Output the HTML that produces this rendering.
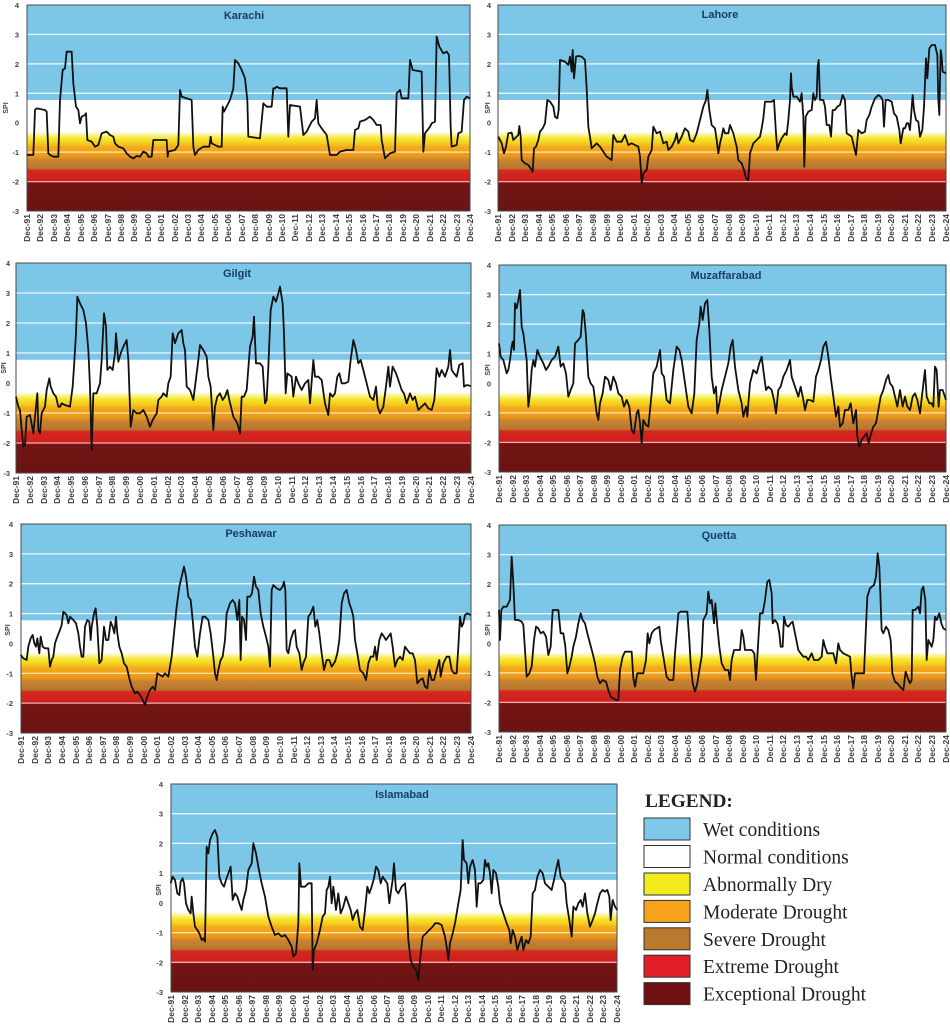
<!DOCTYPE html>
<html>
<head>
<meta charset="utf-8">
<style>
  html,body{margin:0;padding:0;background:#fff;}
  body{width:950px;height:1024px;position:relative;overflow:hidden;font-family:"Liberation Sans",sans-serif;}
  svg{position:absolute;left:0;top:0;}
  .gw{stroke:#ffffff;stroke-opacity:0.85;stroke-width:1.3;fill:none;}
  .gy{stroke:#fff6d0;stroke-opacity:0.85;stroke-width:1.2;fill:none;}
  .gr{stroke:#f6b8b8;stroke-opacity:0.95;stroke-width:1.3;fill:none;}
  .fr{fill:none;stroke:#4a4a4a;stroke-width:1;}
  .yl{font:bold 7.5px "Liberation Sans",sans-serif;fill:#444;text-anchor:end;}
  .spi{font:bold 7px "Liberation Sans",sans-serif;fill:#444;text-anchor:middle;}
  .tt{font:bold 11px "Liberation Sans",sans-serif;fill:#1a3d63;text-anchor:middle;}
  .ln{fill:none;stroke:#111;stroke-width:1.8;stroke-linejoin:round;vector-effect:non-scaling-stroke;}
  .xl{position:absolute;display:flex;justify-content:space-between;align-items:flex-start;}
  .xl span{writing-mode:vertical-rl;transform:rotate(180deg);font:bold 8.5px "Liberation Sans",sans-serif;line-height:10px;color:#3c3c3c;white-space:nowrap;}
  .lg{font-family:"Liberation Serif",serif;fill:#222;}
</style>
</head>
<body>
<svg width="950" height="1024" viewBox="0 0 950 1024" xmlns="http://www.w3.org/2000/svg">
<defs>
<linearGradient id="bg" x1="0" y1="0" x2="0" y2="1">
  <stop offset="0" stop-color="#7cc6e8"/>
  <stop offset="0.46" stop-color="#7cc6e8"/>
  <stop offset="0.4615" stop-color="#ffffff"/>
  <stop offset="0.614" stop-color="#ffffff"/>
  <stop offset="0.628" stop-color="#fbf4a8"/>
  <stop offset="0.65" stop-color="#f6e628"/>
  <stop offset="0.672" stop-color="#f5cc20"/>
  <stop offset="0.69" stop-color="#f3aa1c"/>
  <stop offset="0.735" stop-color="#ec981c"/>
  <stop offset="0.752" stop-color="#c98331"/>
  <stop offset="0.793" stop-color="#b8772f"/>
  <stop offset="0.803" stop-color="#d4281f"/>
  <stop offset="0.852" stop-color="#d01f1c"/>
  <stop offset="0.864" stop-color="#731414"/>
  <stop offset="1" stop-color="#6b1313"/>
</linearGradient>
</defs>

<!-- Karachi -->
<g>
<rect x="27" y="5" width="443" height="206" fill="url(#bg)"/>
<path class="gw" d="M27 34.4H470M27 63.9H470M27 93.3H470"/>
<path class="gy" d="M27 152.1H470"/>
<path class="gr" d="M27 181.6H470"/>
<rect class="fr" x="27" y="5" width="443" height="206"/>
<text class="yl" x="19" y="8">4</text><text class="yl" x="19" y="37.4">3</text><text class="yl" x="19" y="66.9">2</text><text class="yl" x="19" y="96.3">1</text><text class="yl" x="19" y="125.7">0</text><text class="yl" x="19" y="155.1">-1</text><text class="yl" x="19" y="184.6">-2</text><text class="yl" x="19" y="214">-3</text>
<text class="spi" transform="translate(8,108) rotate(-90)">SPI</text>
<text class="tt" x="244" y="19">Karachi</text>
<polyline class="ln" transform="translate(0,0) scale(0.33333)" points="80,465 95,465 100,465 105,330 110,325 135,330 140,335 145,460 150,465 160,470 175,470 180,300 188,210 195,205 200,155 215,155 220,250 228,320 235,330 240,370 245,350 255,345 258,340 262,420 275,425 285,440 295,435 305,400 320,395 330,405 340,410 345,430 355,440 370,445 380,460 390,470 400,475 410,468 420,470 430,455 440,460 445,470 455,470 460,420 500,420 503,470 505,455 525,450 535,435 540,270 545,290 560,295 575,300 580,440 585,465 595,450 610,440 628,440 632,410 635,430 645,435 655,440 665,440 668,320 672,335 690,300 700,265 705,180 715,190 725,210 735,235 742,300 745,410 780,415 790,310 800,320 815,320 820,265 825,265 830,260 840,265 860,265 865,410 870,315 900,320 910,405 920,395 935,365 945,355 950,300 955,370 965,385 980,405 990,465 1010,465 1020,455 1040,450 1060,450 1065,390 1075,385 1080,365 1095,360 1110,350 1120,360 1130,375 1142,375 1145,420 1155,475 1170,460 1185,455 1190,280 1200,270 1205,295 1225,295 1230,180 1238,210 1265,215 1270,455 1275,400 1290,380 1295,370 1305,365 1310,110 1318,140 1330,160 1340,155 1347,165 1352,380 1355,440 1370,435 1375,400 1385,395 1392,300 1400,290 1410,295"/>
</g>

<!-- Lahore -->
<g>
<rect x="498" y="5" width="448" height="206" fill="url(#bg)"/>
<path class="gw" d="M498 34.4H946M498 63.9H946M498 93.3H946"/>
<path class="gy" d="M498 152.1H946"/>
<path class="gr" d="M498 181.6H946"/>
<rect class="fr" x="498" y="5" width="448" height="206"/>
<text class="yl" x="491" y="8">4</text><text class="yl" x="491" y="37.4">3</text><text class="yl" x="491" y="66.9">2</text><text class="yl" x="491" y="96.3">1</text><text class="yl" x="491" y="125.7">0</text><text class="yl" x="491" y="155.1">-1</text><text class="yl" x="491" y="184.6">-2</text><text class="yl" x="491" y="214">-3</text>
<text class="spi" transform="translate(490,108) rotate(-90)">SPI</text>
<text class="tt" x="720" y="18">Lahore</text>
<polyline class="ln" transform="translate(460,0) scale(0.33333)" points="115,410 125,430 132,460 138,440 145,400 155,398 160,420 170,410 175,405 178,378 182,410 185,480 195,490 205,495 212,505 218,515 222,445 228,440 235,420 240,395 248,385 255,370 258,340 262,300 270,305 280,320 285,350 292,355 296,330 300,180 315,185 325,195 330,170 335,215 338,150 342,235 348,170 355,168 365,170 375,180 380,265 385,380 390,410 395,445 400,440 410,430 420,440 430,455 440,470 455,480 460,405 470,425 485,425 495,405 505,435 515,430 525,435 535,440 540,470 545,550 550,520 560,510 565,470 575,450 580,380 590,400 600,395 610,430 620,425 625,450 635,440 645,420 650,400 655,430 665,410 675,385 685,395 690,420 700,425 710,400 720,360 730,320 738,300 742,270 748,330 755,375 765,385 770,420 775,460 780,430 785,410 790,385 795,400 805,400 810,375 820,400 830,440 835,480 845,490 852,510 858,535 865,540 870,460 880,430 890,420 900,410 905,385 910,355 915,305 925,305 935,305 942,300 948,400 952,450 958,430 965,415 975,400 980,405 985,360 990,300 993,220 995,260 1000,290 1010,290 1020,305 1025,280 1030,350 1033,500 1037,350 1045,335 1055,330 1060,280 1065,300 1070,290 1073,200 1076,180 1080,300 1090,300 1095,320 1100,375 1108,375 1113,410 1118,330 1125,330 1132,320 1140,315 1148,285 1155,300 1160,400 1168,405 1175,410 1188,465 1195,390 1205,400 1215,395 1220,360 1228,345 1235,320 1245,295 1255,285 1262,290 1268,300 1272,380 1277,300 1285,300 1295,305 1302,340 1310,350 1318,390 1322,430 1330,385 1335,385 1340,370 1345,370 1350,390 1358,285 1362,330 1368,360 1375,365 1380,410 1387,390 1392,320 1398,175 1402,235 1408,145 1415,135 1425,135 1432,165 1435,300 1438,345 1442,150 1445,170 1448,215 1458,220"/>
</g>

<!-- Gilgit -->
<g>
<rect x="16" y="263" width="455" height="210" fill="url(#bg)"/>
<path class="gw" d="M16 293H471M16 323H471M16 353H471"/>
<path class="gy" d="M16 413H471"/>
<path class="gr" d="M16 443H471"/>
<rect class="fr" x="16" y="263" width="455" height="210"/>
<text class="yl" x="10" y="266">4</text><text class="yl" x="10" y="296">3</text><text class="yl" x="10" y="326">2</text><text class="yl" x="10" y="356">1</text><text class="yl" x="10" y="386">0</text><text class="yl" x="10" y="416">-1</text><text class="yl" x="10" y="446">-2</text><text class="yl" x="10" y="476">-3</text>
<text class="spi" transform="translate(6,368) rotate(-90)">SPI</text>
<text class="tt" x="237" y="277">Gilgit</text>
<polyline class="ln" transform="translate(0,250) scale(0.33333)" points="48,440 55,470 60,480 65,540 70,590 75,585 80,500 90,495 100,550 108,470 112,430 115,540 120,550 125,490 135,470 140,420 148,385 152,410 160,430 168,440 175,470 180,470 185,460 195,465 210,470 218,410 222,350 228,250 232,140 240,160 250,180 258,220 265,300 270,410 275,600 280,430 290,430 300,400 305,330 312,190 318,230 322,360 330,350 338,360 345,310 348,250 355,335 362,310 370,290 380,270 385,330 392,530 400,480 410,490 420,490 430,480 440,500 450,530 458,510 470,490 475,450 485,440 490,430 500,440 505,400 512,380 518,250 525,280 535,250 545,240 550,280 555,300 560,410 570,420 580,450 585,410 595,330 600,285 610,300 620,320 625,380 632,410 640,540 645,470 652,440 660,430 668,450 675,440 682,420 688,450 700,500 712,520 720,550 725,440 732,440 740,420 750,290 758,260 762,200 768,340 780,340 788,350 795,460 800,450 805,350 812,180 820,140 828,155 835,130 840,110 848,160 852,250 857,430 862,370 875,380 880,440 888,380 895,400 905,420 915,400 925,390 930,460 940,330 945,380 955,380 965,390 975,460 985,495 990,430 998,440 1005,430 1012,380 1018,370 1025,400 1035,400 1045,395 1052,330 1060,270 1068,300 1075,340 1082,330 1090,360 1100,400 1110,440 1120,450 1128,410 1133,470 1140,490 1150,470 1158,410 1165,350 1170,410 1178,350 1188,370 1195,390 1205,420 1212,430 1220,460 1230,430 1238,450 1245,440 1255,480 1265,470 1275,460 1285,475 1295,480 1303,450 1310,355 1318,380 1325,360 1335,380 1345,350 1350,300 1355,360 1362,370 1370,380 1378,345 1388,340 1392,410 1400,405 1412,408"/>
</g>

<!-- Muzaffarabad -->
<g>
<rect x="499" y="265" width="447" height="207" fill="url(#bg)"/>
<path class="gw" d="M499 294.6H946M499 324.1H946M499 353.7H946"/>
<path class="gy" d="M499 412.9H946"/>
<path class="gr" d="M499 442.4H946"/>
<rect class="fr" x="499" y="265" width="447" height="207"/>
<text class="yl" x="491" y="268">4</text><text class="yl" x="491" y="297.6">3</text><text class="yl" x="491" y="327.1">2</text><text class="yl" x="491" y="356.7">1</text><text class="yl" x="491" y="386.3">0</text><text class="yl" x="491" y="415.9">-1</text><text class="yl" x="491" y="445.4">-2</text><text class="yl" x="491" y="475">-3</text>
<text class="spi" transform="translate(490,370) rotate(-90)">SPI</text>
<text class="tt" x="726" y="279">Muzaffarabad</text>
<polyline class="ln" transform="translate(460,250) scale(0.33333)" points="117,280 122,320 130,330 135,350 140,370 145,360 150,330 155,290 158,275 162,300 165,160 170,175 175,150 180,120 185,230 190,250 195,290 200,330 205,470 210,430 215,360 220,330 225,350 232,300 240,320 250,340 258,360 265,350 275,330 285,320 295,290 302,350 310,340 318,370 325,440 332,420 340,400 345,280 355,270 362,260 368,180 372,190 378,260 385,380 392,400 400,410 410,490 415,510 420,460 428,430 435,380 445,390 452,420 460,380 468,400 475,430 485,440 492,470 500,450 508,470 515,540 522,550 530,490 535,480 540,520 545,580 550,510 558,525 565,530 575,430 580,370 590,350 600,300 605,370 612,380 620,450 630,460 640,360 650,290 658,300 665,330 675,400 685,470 695,490 703,430 710,270 718,220 722,170 728,210 735,160 742,150 748,240 755,380 762,430 768,410 772,490 778,460 785,420 795,380 805,340 812,290 818,270 825,350 835,420 845,460 850,500 858,470 862,500 870,400 880,360 890,370 898,340 905,320 910,360 918,420 925,410 935,420 942,450 948,490 955,420 962,410 970,380 980,360 990,330 995,380 1005,410 1015,440 1022,410 1030,450 1035,480 1042,450 1050,450 1060,455 1068,380 1075,360 1083,330 1090,290 1098,275 1105,320 1112,380 1120,440 1128,500 1135,470 1140,530 1148,520 1155,480 1165,480 1172,460 1180,520 1188,480 1192,560 1198,590 1205,570 1212,560 1220,550 1226,580 1232,555 1240,530 1248,520 1255,480 1262,440 1270,420 1278,390 1285,375 1290,400 1298,410 1305,440 1312,470 1320,420 1328,470 1335,440 1342,470 1350,480 1358,440 1365,430 1372,450 1380,490 1388,420 1395,360 1400,440 1408,460 1415,460 1420,470 1425,350 1430,360 1436,470 1440,420 1448,420 1458,450"/>
</g>

<!-- Peshawar -->
<g>
<rect x="21" y="524" width="450" height="209" fill="url(#bg)"/>
<path class="gw" d="M21 553.9H471M21 583.7H471M21 613.6H471"/>
<path class="gy" d="M21 673.3H471"/>
<path class="gr" d="M21 703.1H471"/>
<rect class="fr" x="21" y="524" width="450" height="209"/>
<text class="yl" x="13" y="527">4</text><text class="yl" x="13" y="556.9">3</text><text class="yl" x="13" y="586.7">2</text><text class="yl" x="13" y="616.6">1</text><text class="yl" x="13" y="646.4">0</text><text class="yl" x="13" y="676.3">-1</text><text class="yl" x="13" y="706.1">-2</text><text class="yl" x="13" y="736">-3</text>
<text class="spi" transform="translate(10,630) rotate(-90)">SPI</text>
<text class="tt" x="251" y="537">Peshawar</text>
<polyline class="ln" transform="translate(0,500) scale(0.33333)" points="62,465 70,475 80,480 85,440 92,415 98,405 103,430 108,440 112,415 118,460 122,410 128,440 135,445 145,445 150,500 155,480 160,470 165,430 172,410 180,390 185,375 190,335 200,345 205,370 210,350 220,360 228,370 235,400 240,440 245,470 250,470 255,380 262,360 268,365 272,420 275,380 282,340 287,325 292,380 298,490 305,480 312,380 318,420 325,420 332,365 338,380 343,400 348,350 352,400 358,440 365,460 372,490 380,500 388,535 395,560 405,580 412,575 420,585 428,600 435,615 442,590 450,570 458,560 465,570 472,520 480,525 488,530 495,520 505,530 510,500 515,470 522,400 530,320 538,260 545,230 552,200 558,230 565,290 572,300 578,360 585,440 592,470 600,400 608,350 615,350 625,360 632,400 640,470 645,520 650,540 655,510 662,480 668,470 675,420 680,340 690,310 698,300 705,310 712,360 718,300 722,480 726,350 732,360 738,420 742,290 750,290 756,280 762,230 768,260 775,270 782,340 790,380 798,410 805,440 810,500 815,270 820,255 830,265 840,270 848,260 852,245 856,270 860,450 865,460 872,420 880,395 885,390 890,440 898,460 905,510 910,490 918,470 925,350 932,340 940,320 946,380 952,360 958,400 965,460 972,510 980,480 988,480 995,500 1005,485 1012,460 1018,420 1025,310 1032,280 1040,270 1048,310 1055,330 1060,350 1065,420 1072,460 1080,510 1090,520 1098,540 1105,490 1112,470 1120,470 1125,440 1130,480 1138,420 1145,400 1152,410 1158,420 1165,410 1172,400 1178,440 1185,500 1192,480 1200,470 1208,480 1215,440 1222,450 1230,460 1238,460 1245,480 1252,550 1260,540 1268,535 1275,560 1282,565 1288,510 1295,540 1302,540 1310,510 1318,480 1322,530 1330,490 1335,480 1340,470 1348,470 1355,510 1362,520 1370,520 1375,440 1380,350 1385,380 1390,370 1395,345 1402,340 1412,345"/>
</g>

<!-- Quetta -->
<g>
<rect x="499" y="525" width="447" height="207" fill="url(#bg)"/>
<path class="gw" d="M499 554.6H946M499 584.1H946M499 613.7H946"/>
<path class="gy" d="M499 672.9H946"/>
<path class="gr" d="M499 702.4H946"/>
<rect class="fr" x="499" y="525" width="447" height="207"/>
<text class="yl" x="491" y="528">4</text><text class="yl" x="491" y="557.6">3</text><text class="yl" x="491" y="587.1">2</text><text class="yl" x="491" y="616.7">1</text><text class="yl" x="491" y="646.3">0</text><text class="yl" x="491" y="675.9">-1</text><text class="yl" x="491" y="705.4">-2</text><text class="yl" x="491" y="735">-3</text>
<text class="spi" transform="translate(490,630) rotate(-90)">SPI</text>
<text class="tt" x="719" y="539">Quetta</text>
<polyline class="ln" transform="translate(460,500) scale(0.33333)" points="117,330 120,420 124,330 130,320 140,320 145,310 150,300 155,170 160,250 165,360 175,360 185,365 190,375 195,450 200,530 208,520 215,500 222,420 228,380 235,385 242,400 250,395 258,410 265,465 272,440 278,330 285,330 295,330 302,400 310,400 316,440 322,520 328,500 335,470 340,440 348,410 355,370 362,340 368,360 375,370 382,400 390,430 398,460 405,490 412,530 420,550 428,540 438,545 445,570 452,590 460,595 468,600 475,600 480,510 488,470 495,455 505,455 515,455 520,535 525,560 532,520 540,520 550,520 558,480 563,400 568,430 575,400 582,390 590,385 598,380 602,420 610,470 620,530 628,540 640,540 645,460 650,400 655,340 662,335 672,335 682,335 688,420 692,490 698,550 705,575 712,550 718,510 725,470 730,360 740,340 745,275 750,310 755,300 762,370 766,310 772,380 778,440 785,490 795,510 805,510 810,540 815,480 822,450 830,450 840,450 845,390 850,410 855,450 865,450 875,450 883,460 888,540 895,420 900,340 908,340 915,300 922,245 928,240 935,280 938,370 945,360 952,370 958,400 962,440 968,440 972,350 978,375 985,380 992,370 998,365 1005,400 1015,450 1022,460 1030,470 1038,470 1045,480 1055,460 1062,480 1075,480 1085,470 1090,420 1095,440 1102,460 1110,460 1120,460 1128,490 1135,430 1140,450 1150,460 1160,465 1170,470 1175,530 1180,565 1185,520 1195,520 1205,520 1212,520 1218,380 1222,290 1230,265 1242,255 1248,230 1253,160 1258,200 1265,390 1270,400 1278,380 1285,390 1292,420 1297,520 1305,545 1312,550 1320,560 1330,570 1337,515 1342,530 1350,550 1355,540 1358,330 1365,330 1375,320 1380,340 1385,270 1390,260 1396,300 1400,480 1405,420 1410,430 1415,440 1420,420 1425,350 1430,360 1438,340 1444,370 1450,385 1458,390"/>
</g>

<!-- Islamabad -->
<g>
<rect x="171" y="784" width="446" height="208" fill="url(#bg)"/>
<path class="gw" d="M171 813.7H617M171 843.4H617M171 873.1H617"/>
<path class="gy" d="M171 932.6H617"/>
<path class="gr" d="M171 962.3H617"/>
<rect class="fr" x="171" y="784" width="446" height="208"/>
<text class="yl" x="163" y="787">4</text><text class="yl" x="163" y="816.7">3</text><text class="yl" x="163" y="846.4">2</text><text class="yl" x="163" y="876.1">1</text><text class="yl" x="163" y="905.9">0</text><text class="yl" x="163" y="935.6">-1</text><text class="yl" x="163" y="965.3">-2</text><text class="yl" x="163" y="995">-3</text>
<text class="spi" transform="translate(161,890) rotate(-90)">SPI</text>
<text class="tt" x="402" y="798">Islamabad</text>
<polyline class="ln" transform="translate(140,770) scale(0.33333)" points="92,340 98,320 105,330 112,370 118,375 122,335 128,325 132,340 138,400 145,420 152,430 155,380 160,430 165,470 172,480 178,490 185,510 190,505 195,515 200,230 205,250 210,210 218,190 225,180 232,200 238,320 245,340 252,350 258,330 265,310 272,290 278,390 285,370 292,380 298,400 305,420 310,390 318,360 325,300 335,280 340,220 348,250 355,290 365,340 375,380 385,440 395,470 405,495 415,490 425,500 435,495 445,510 455,530 460,560 468,550 475,460 478,280 483,350 495,350 505,340 515,340 518,600 522,540 530,520 540,480 548,440 555,430 560,360 565,350 570,320 575,400 580,350 588,420 595,370 602,430 610,410 618,380 625,400 632,420 638,450 645,430 652,420 660,470 668,480 675,420 682,350 688,370 695,350 702,325 708,290 715,300 722,340 728,320 735,330 742,340 748,400 752,370 758,330 762,280 768,360 775,370 785,350 795,340 800,400 805,510 812,570 820,590 828,600 835,630 840,570 848,500 858,490 868,480 878,470 885,460 895,460 905,465 915,500 920,530 925,570 930,520 938,490 945,460 955,400 962,360 968,210 972,270 980,280 985,340 990,290 998,270 1005,300 1010,410 1015,340 1022,340 1030,330 1035,270 1040,290 1045,280 1050,310 1055,370 1060,300 1068,310 1075,350 1080,400 1090,430 1100,460 1108,480 1112,520 1118,480 1125,500 1132,540 1138,520 1145,500 1150,540 1158,510 1165,520 1172,500 1178,370 1185,360 1192,320 1200,300 1208,310 1215,340 1225,350 1235,360 1242,330 1248,300 1255,270 1262,320 1268,330 1275,340 1280,400 1288,450 1295,500 1300,410 1308,420 1315,400 1322,390 1328,410 1335,370 1342,430 1350,470 1358,450 1365,430 1372,400 1380,370 1388,360 1395,365 1402,360 1408,380 1412,450 1418,390 1425,410 1432,420"/>
</g>

<!-- Legend -->
<g>
<text class="lg" x="645" y="807" font-size="19.3" font-weight="bold" fill="#111">LEGEND:</text>
<rect x="644" y="818" width="46" height="22" fill="#7ec8e9" stroke="#333" stroke-width="1"/>
<rect x="644" y="845.5" width="46" height="22" fill="#ffffff" stroke="#333" stroke-width="1"/>
<rect x="644" y="873" width="46" height="22" fill="#f2ec1e" stroke="#333" stroke-width="1"/>
<rect x="644" y="900.4" width="46" height="22" fill="#f6a31b" stroke="#333" stroke-width="1"/>
<rect x="644" y="927.8" width="46" height="22" fill="#b97a2e" stroke="#333" stroke-width="1"/>
<rect x="644" y="955.2" width="46" height="22" fill="#e21e26" stroke="#333" stroke-width="1"/>
<rect x="644" y="982.6" width="46" height="22" fill="#6e1012" stroke="#333" stroke-width="1"/>
<text class="lg" x="703" y="836" font-size="19.5">Wet conditions</text>
<text class="lg" x="703" y="863.5" font-size="19.5">Normal conditions</text>
<text class="lg" x="703" y="891" font-size="19.5">Abnormally Dry</text>
<text class="lg" x="703" y="918.4" font-size="19.5">Moderate Drought</text>
<text class="lg" x="703" y="945.8" font-size="19.5">Severe Drought</text>
<text class="lg" x="703" y="973.2" font-size="19.5">Extreme Drought</text>
<text class="lg" x="703" y="1000.6" font-size="19.5">Exceptional Drought</text>
</g>
</svg>

<!-- X-axis labels -->
<div class="xl" style="left:22px;top:214px;width:453px;"><span>Dec-91</span><span>Dec-92</span><span>Dec-93</span><span>Dec-94</span><span>Dec-95</span><span>Dec-96</span><span>Dec-97</span><span>Dec-98</span><span>Dec-99</span><span>Dec-00</span><span>Dec-01</span><span>Dec-02</span><span>Dec-03</span><span>Dec-04</span><span>Dec-05</span><span>Dec-06</span><span>Dec-07</span><span>Dec-08</span><span>Dec-09</span><span>Dec-10</span><span>Dec-11</span><span>Dec-12</span><span>Dec-13</span><span>Dec-14</span><span>Dec-15</span><span>Dec-16</span><span>Dec-17</span><span>Dec-18</span><span>Dec-19</span><span>Dec-20</span><span>Dec-21</span><span>Dec-22</span><span>Dec-23</span><span>Dec-24</span></div>
<div class="xl" style="left:493px;top:214px;width:458px;"><span>Dec-91</span><span>Dec-92</span><span>Dec-93</span><span>Dec-94</span><span>Dec-95</span><span>Dec-96</span><span>Dec-97</span><span>Dec-98</span><span>Dec-99</span><span>Dec-00</span><span>Dec-01</span><span>Dec-02</span><span>Dec-03</span><span>Dec-04</span><span>Dec-05</span><span>Dec-06</span><span>Dec-07</span><span>Dec-08</span><span>Dec-09</span><span>Dec-10</span><span>Dec-11</span><span>Dec-12</span><span>Dec-13</span><span>Dec-14</span><span>Dec-15</span><span>Dec-16</span><span>Dec-17</span><span>Dec-18</span><span>Dec-19</span><span>Dec-20</span><span>Dec-21</span><span>Dec-22</span><span>Dec-23</span><span>Dec-24</span></div>
<div class="xl" style="left:11px;top:476px;width:465px;"><span>Dec-91</span><span>Dec-92</span><span>Dec-93</span><span>Dec-94</span><span>Dec-95</span><span>Dec-96</span><span>Dec-97</span><span>Dec-98</span><span>Dec-99</span><span>Dec-00</span><span>Dec-01</span><span>Dec-02</span><span>Dec-03</span><span>Dec-04</span><span>Dec-05</span><span>Dec-06</span><span>Dec-07</span><span>Dec-08</span><span>Dec-09</span><span>Dec-10</span><span>Dec-11</span><span>Dec-12</span><span>Dec-13</span><span>Dec-14</span><span>Dec-15</span><span>Dec-16</span><span>Dec-17</span><span>Dec-18</span><span>Dec-19</span><span>Dec-20</span><span>Dec-21</span><span>Dec-22</span><span>Dec-23</span><span>Dec-24</span></div>
<div class="xl" style="left:494px;top:475px;width:457px;"><span>Dec-91</span><span>Dec-92</span><span>Dec-93</span><span>Dec-94</span><span>Dec-95</span><span>Dec-96</span><span>Dec-97</span><span>Dec-98</span><span>Dec-99</span><span>Dec-00</span><span>Dec-01</span><span>Dec-02</span><span>Dec-03</span><span>Dec-04</span><span>Dec-05</span><span>Dec-06</span><span>Dec-07</span><span>Dec-08</span><span>Dec-09</span><span>Dec-10</span><span>Dec-11</span><span>Dec-12</span><span>Dec-13</span><span>Dec-14</span><span>Dec-15</span><span>Dec-16</span><span>Dec-17</span><span>Dec-18</span><span>Dec-19</span><span>Dec-20</span><span>Dec-21</span><span>Dec-22</span><span>Dec-23</span><span>Dec-24</span></div>
<div class="xl" style="left:16px;top:736px;width:460px;"><span>Dec-91</span><span>Dec-92</span><span>Dec-93</span><span>Dec-94</span><span>Dec-95</span><span>Dec-96</span><span>Dec-97</span><span>Dec-98</span><span>Dec-99</span><span>Dec-00</span><span>Dec-01</span><span>Dec-02</span><span>Dec-03</span><span>Dec-04</span><span>Dec-05</span><span>Dec-06</span><span>Dec-07</span><span>Dec-08</span><span>Dec-09</span><span>Dec-10</span><span>Dec-11</span><span>Dec-12</span><span>Dec-13</span><span>Dec-14</span><span>Dec-15</span><span>Dec-16</span><span>Dec-17</span><span>Dec-18</span><span>Dec-19</span><span>Dec-20</span><span>Dec-21</span><span>Dec-22</span><span>Dec-23</span><span>Dec-24</span></div>
<div class="xl" style="left:494px;top:735px;width:457px;"><span>Dec-91</span><span>Dec-92</span><span>Dec-93</span><span>Dec-94</span><span>Dec-95</span><span>Dec-96</span><span>Dec-97</span><span>Dec-98</span><span>Dec-99</span><span>Dec-00</span><span>Dec-01</span><span>Dec-02</span><span>Dec-03</span><span>Dec-04</span><span>Dec-05</span><span>Dec-06</span><span>Dec-07</span><span>Dec-08</span><span>Dec-09</span><span>Dec-10</span><span>Dec-11</span><span>Dec-12</span><span>Dec-13</span><span>Dec-14</span><span>Dec-15</span><span>Dec-16</span><span>Dec-17</span><span>Dec-18</span><span>Dec-19</span><span>Dec-20</span><span>Dec-21</span><span>Dec-22</span><span>Dec-23</span><span>Dec-24</span></div>
<div class="xl" style="left:166px;top:995px;width:456px;"><span>Dec-91</span><span>Dec-92</span><span>Dec-93</span><span>Dec-94</span><span>Dec-95</span><span>Dec-96</span><span>Dec-97</span><span>Dec-98</span><span>Dec-99</span><span>Dec-00</span><span>Dec-01</span><span>Dec-02</span><span>Dec-03</span><span>Dec-04</span><span>Dec-05</span><span>Dec-06</span><span>Dec-07</span><span>Dec-08</span><span>Dec-09</span><span>Dec-10</span><span>Dec-11</span><span>Dec-12</span><span>Dec-13</span><span>Dec-14</span><span>Dec-15</span><span>Dec-16</span><span>Dec-17</span><span>Dec-18</span><span>Dec-19</span><span>Dec-20</span><span>Dec-21</span><span>Dec-22</span><span>Dec-23</span><span>Dec-24</span></div>
</body>
</html>
